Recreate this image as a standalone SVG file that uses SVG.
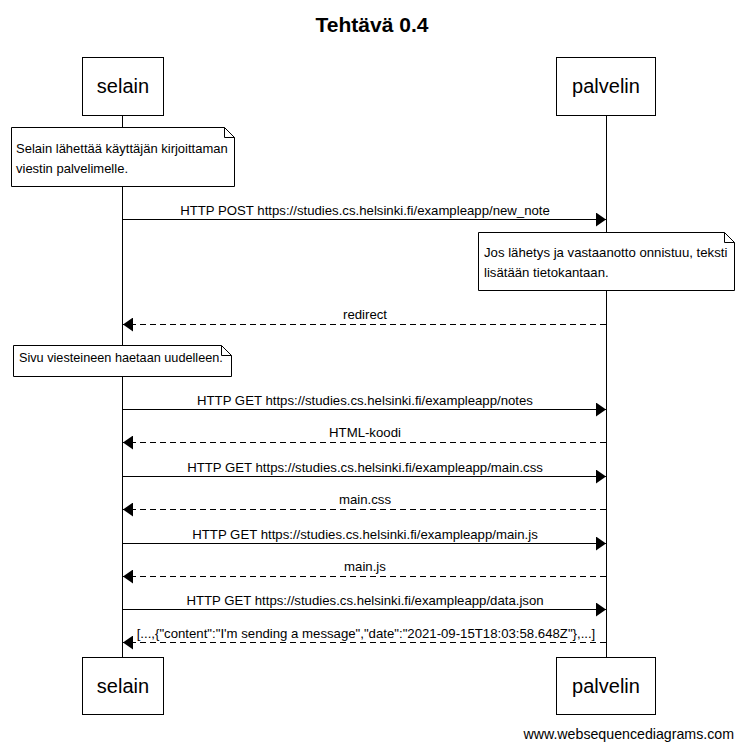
<svg xmlns="http://www.w3.org/2000/svg" width="744" height="748" viewBox="0 0 744 748">
<style>
text{font-family:"Liberation Sans",Arial,sans-serif;fill:#000}
.title{font-size:21px;font-weight:bold;text-anchor:middle}
.actor rect{fill:#fff;stroke:#000;stroke-width:1}
.actor text{font-size:20px;text-anchor:middle}
.life{stroke:#000;stroke-width:1}
.msg{stroke:#000;stroke-width:1;fill:none}
.dash{stroke-dasharray:6,4}
.lbl{font-size:13.2px;text-anchor:middle}
.note path{fill:#fff;stroke:#000;stroke-width:1}
.note text{font-size:13px}
.foot{font-size:14.2px;text-anchor:end}
</style>
<defs>
<marker id="ah" viewBox="0 0 10 14" refX="10" refY="7" markerWidth="10" markerHeight="14" markerUnits="userSpaceOnUse" orient="auto">
<path d="M0,0 L10,7 L0,14 Z" fill="#000"/>
</marker>
</defs>
<rect width="744" height="748" fill="#fff"/>
<text class="title" x="372" y="32">Tehtävä 0.4</text>
<g id="lifelines">
<line class="life" x1="122.5" y1="115" x2="122.5" y2="657"/>
<line class="life" x1="606.5" y1="115" x2="606.5" y2="657"/>
</g>
<g id="selain" class="actor">
<rect x="82.5" y="57.5" width="81" height="58"/>
<text x="123" y="93">selain</text>
<rect x="82.5" y="657.5" width="81" height="57"/>
<text x="123" y="693">selain</text>
</g>
<g id="palvelin" class="actor">
<rect x="556.5" y="57.5" width="99" height="58"/>
<text x="606" y="93">palvelin</text>
<rect x="556.5" y="657.5" width="99" height="57"/>
<text x="606" y="693">palvelin</text>
</g>
<g id="note1" class="note">
<path d="M11.5,127.5 H224.5 L234.5,137.5 V186.5 H11.5 Z M224.5,127.5 V137.5 H234.5"/>
<text x="16" y="153">Selain lähettää käyttäjän kirjoittaman</text>
<text x="16" y="173">viestin palvelimelle.</text>
</g>
<g id="note2" class="note">
<path d="M478.5,232.5 H724.5 L734.5,242.5 V290.5 H478.5 Z M724.5,232.5 V242.5 H734.5"/>
<text x="484" y="257" style="font-size:13.2px">Jos lähetys ja vastaanotto onnistuu, teksti</text>
<text x="484" y="277" style="font-size:13.2px">lisätään tietokantaan.</text>
</g>
<g id="note3" class="note">
<path d="M13.5,345.5 H221.5 L231.5,355.5 V376.5 H13.5 Z M221.5,345.5 V355.5 H231.5"/>
<text x="19" y="362" style="font-size:12.7px">Sivu viesteineen haetaan uudelleen.</text>
</g>
<g id="connectors">
<line class="msg" x1="122.5" y1="219.5" x2="606" y2="219.5" marker-end="url(#ah)"/>
<text class="lbl" x="365" y="215">HTTP POST https://studies.cs.helsinki.fi/exampleapp/new_note</text>
<line class="msg dash" x1="606" y1="324.5" x2="123" y2="324.5" marker-end="url(#ah)"/>
<text class="lbl" x="365" y="319">redirect</text>
<line class="msg" x1="122.5" y1="409.5" x2="606" y2="409.5" marker-end="url(#ah)"/>
<text class="lbl" x="365" y="405">HTTP GET https://studies.cs.helsinki.fi/exampleapp/notes</text>
<line class="msg dash" x1="606" y1="442.5" x2="123" y2="442.5" marker-end="url(#ah)"/>
<text class="lbl" x="365" y="437">HTML-koodi</text>
<line class="msg" x1="122.5" y1="476.5" x2="606" y2="476.5" marker-end="url(#ah)"/>
<text class="lbl" x="365" y="472">HTTP GET https://studies.cs.helsinki.fi/exampleapp/main.css</text>
<line class="msg dash" x1="606" y1="509.5" x2="123" y2="509.5" marker-end="url(#ah)"/>
<text class="lbl" x="365" y="504">main.css</text>
<line class="msg" x1="122.5" y1="543.5" x2="606" y2="543.5" marker-end="url(#ah)"/>
<text class="lbl" x="365" y="539">HTTP GET https://studies.cs.helsinki.fi/exampleapp/main.js</text>
<line class="msg dash" x1="606" y1="576.5" x2="123" y2="576.5" marker-end="url(#ah)"/>
<text class="lbl" x="365" y="571">main.js</text>
<line class="msg" x1="122.5" y1="609.5" x2="606" y2="609.5" marker-end="url(#ah)"/>
<text class="lbl" x="365" y="605">HTTP GET https://studies.cs.helsinki.fi/exampleapp/data.json</text>
<line class="msg dash" x1="606" y1="642.5" x2="123" y2="642.5" marker-end="url(#ah)"/>
<text class="lbl" x="366" y="638">[...,{"content":"I'm sending a message","date":"2021-09-15T18:03:58.648Z"},...]</text>
</g>
<text class="foot" x="734" y="739">www.websequencediagrams.com</text>
</svg>
